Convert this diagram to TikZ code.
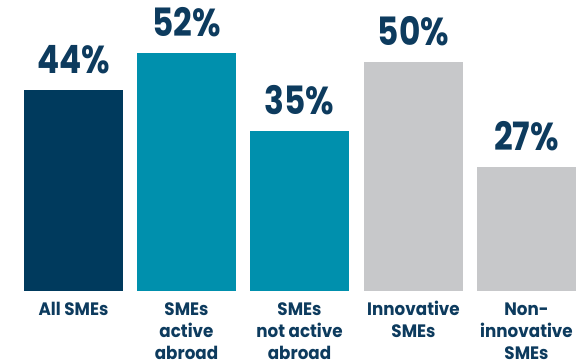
\documentclass[tikz,border=0pt]{standalone}
\usepackage{fontspec}
\setmainfont{Poppins}
\newfontfamily\pctfont{Poppins}[FakeStretch=0.84]
\newfontfamily\catfont{Poppins}[FakeStretch=0.93]
\usetikzlibrary{calc}
\definecolor{navy}{HTML}{003A5D}
\definecolor{teal}{HTML}{0090AD}
\definecolor{lgray}{HTML}{C7C8CA}
\definecolor{txt}{HTML}{0D3B5E}
\newcommand{\catlines}[1]{\vtop{\halign{\hfil##\hfil\cr#1\crcr}}}
\begin{document}
\begin{tikzpicture}[x=1pt,y=1pt,
  bar/.style={inner sep=0pt,outer sep=0pt,minimum width=99pt,anchor=south west},
  pct/.style={anchor=base,text=txt,font=\fontsize{39}{40}\pctfont\bfseries,inner sep=0pt},
  cat/.style={anchor=base,text=txt,font=\fontsize{18}{22}\catfont\bfseries,inner sep=0pt}]
\useasboundingbox[fill=white] (0,0) rectangle (585,362);
\node[bar,fill=navy,minimum height=200.5pt] (b1) at (24,71.5) {};
\node[bar,fill=teal,minimum height=237.5pt] (b2) at (137,71.5) {};
\node[bar,fill=teal,minimum height=159.5pt] (b3) at (250,71.5) {};
\node[bar,fill=lgray,minimum height=228.5pt] (b4) at (364,71.5) {};
\node[bar,fill=lgray,minimum height=123.5pt] (b5) at (477,71.5) {};
\node[pct] (p1) at ($(b1.north)+(0,16.5)$) {44\%};
\node[pct] (p2) at ($(b2.north)+(0,16.5)$) {52\%};
\node[pct] (p3) at ($(b3.north)+(0,16.5)$) {35\%};
\node[pct] (p4) at ($(b4.north)+(0,16.5)$) {50\%};
\node[pct] (p5) at ($(b5.north)+(0,16.5)$) {27\%};
\node[cat] (c1) at (b1.south |- 0,47) {\catlines{All SMEs}};
\node[cat] (c2) at (b2.south |- 0,47) {\catlines{SMEs\cr active\cr abroad}};
\node[cat] (c3) at (b3.south |- 0,47) {\catlines{SMEs\cr not active\cr abroad}};
\node[cat] (c4) at (b4.south |- 0,47) {\catlines{Innovative\cr SMEs}};
\node[cat] (c5) at (b5.south |- 0,47) {\catlines{Non-\cr innovative\cr SMEs}};
\end{tikzpicture}
\end{document}
